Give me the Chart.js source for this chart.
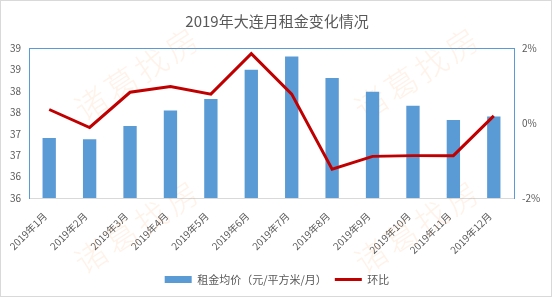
<!DOCTYPE html>
<html>
<head>
<meta charset="utf-8">
<script src="https://cdn.jsdelivr.net/npm/chart.js@4/dist/chart.umd.min.js"></script>
<style>
  html, body { margin: 0; padding: 0; background: #ffffff; }
  #wrap { width: 554px; height: 299px; position: relative; }
</style>
</head>
<body>
<div id="wrap"><canvas id="c" width="554" height="299"></canvas></div>
<script>
// ---- data ----
const titleText = '2019年大连月租金变化情况';
const categories = ['2019年1月','2019年2月','2019年3月','2019年4月','2019年5月','2019年6月',
                    '2019年7月','2019年8月','2019年9月','2019年10月','2019年11月','2019年12月'];
const rentLabel = '租金均价（元/平方米/月）';
const rentValues = [36.90, 36.87, 37.18, 37.54, 37.81, 38.49, 38.80, 38.30, 37.98, 37.65, 37.32, 37.40];
const momLabel = '环比';
const momValues = [0.36, -0.12, 0.82, 0.97, 0.77, 1.85, 0.77, -1.23, -0.89, -0.87, -0.87, 0.19]; // percent
const leftAxis = { min: 35.5, max: 39, step: 0.5 };
const rightAxis = { min: -2, max: 2, step: 2 };
const watermarkText = '诸葛找房';

const FONT = '"Noto Sans CJK SC", "Noto Sans", sans-serif';
const TXT = '#595959';
const BLUE = '#5b9bd5';
const RED = '#c00000';

const framePlugin = {
  id: 'frame',
  beforeDraw(chart) {
    const ctx = chart.ctx;
    ctx.save();
    ctx.fillStyle = '#ffffff';
    ctx.fillRect(0, 0, chart.width, chart.height);
    ctx.strokeStyle = '#d9d9d9';
    ctx.lineWidth = 1;
    ctx.strokeRect(0.5, 0.5, 551, 296);
    ctx.restore();
  }
};

const watermarkPlugin = {
  id: 'watermark',
  beforeDatasetsDraw(chart) {
    const ctx = chart.ctx;
    const spots = [[138, 73], [418, 73], [138, 226], [418, 226]];
    ctx.save();
    ctx.font = '300 32px ' + FONT;
    ctx.fillStyle = 'rgba(247, 150, 70, 0.12)';
    ctx.textAlign = 'center';
    ctx.textBaseline = 'middle';
    try { ctx.letterSpacing = '4px'; } catch (e) {}
    spots.forEach(([x, y]) => {
      ctx.save();
      ctx.translate(x, y);
      ctx.rotate(-33 * Math.PI / 180);
      ctx.fillText(watermarkText, 0, 0);
      ctx.restore();
    });
    ctx.restore();
  }
};

new Chart(document.getElementById('c'), {
  data: {
    labels: categories,
    datasets: [
      {
        type: 'bar',
        label: rentLabel,
        data: rentValues,
        backgroundColor: BLUE,
        borderWidth: 0,
        barPercentage: 0.33,
        categoryPercentage: 1.0,
        yAxisID: 'y',
        order: 2
      },
      {
        type: 'line',
        label: momLabel,
        data: momValues,
        borderColor: RED,
        backgroundColor: RED,
        borderWidth: 3,
        pointRadius: 0,
        tension: 0,
        yAxisID: 'y1',
        order: 1
      }
    ]
  },
  options: {
    responsive: false,
    animation: false,
    devicePixelRatio: 1,
    layout: { padding: { left: 0, right: 0, top: 0, bottom: 4 } },
    plugins: {
      tooltip: { enabled: false },
      title: {
        display: true,
        text: titleText,
        color: TXT,
        font: { family: FONT, size: 15, weight: 'normal', lineHeight: 1.2 },
        padding: { top: 12, bottom: 18 }
      },
      legend: {
        display: true,
        position: 'bottom',
        labels: {
          color: TXT,
          font: { family: FONT, size: 11 },
          usePointStyle: true,
          pointStyleWidth: 27,
          boxHeight: 7,
          padding: 8,
          generateLabels(chart) {
            return chart.data.datasets.map((ds, i) => ({
              text: ds.label,
              fillStyle: ds.type === 'bar' ? BLUE : RED,
              strokeStyle: ds.type === 'bar' ? BLUE : RED,
              lineWidth: ds.type === 'bar' ? 0 : 3,
              pointStyle: ds.type === 'bar' ? 'rect' : 'line',
              fontColor: TXT,
              hidden: false,
              datasetIndex: i
            }));
          }
        }
      }
    },
    scales: {
      x: {
        type: 'category',
        offset: true,
        grid: { display: false, drawTicks: false },
        border: { display: true, color: '#d9d9d9', width: 1 },
        ticks: {
          color: TXT,
          font: { family: FONT, size: 10 },
          minRotation: 45,
          maxRotation: 45,
          autoSkip: false,
          padding: 12,
          labelOffset: -4
        },
        afterFit(scale) { scale.height = 68; }
      },
      y: {
        type: 'linear',
        position: 'left',
        min: leftAxis.min,
        max: leftAxis.max,
        ticks: {
          stepSize: leftAxis.step,
          color: TXT,
          font: { family: FONT, size: 10 },
          padding: 8,
          callback: (v) => String(Math.round(v))
        },
        grid: {
          drawTicks: false,
          color: (c) => (c.tick && c.tick.value === leftAxis.max) ? BLUE : 'rgba(0,0,0,0)',
          lineWidth: 1
        },
        border: { display: true, color: BLUE, width: 1 },
        afterFit(scale) { scale.width = 29; }
      },
      y1: {
        type: 'linear',
        position: 'right',
        min: rightAxis.min,
        max: rightAxis.max,
        ticks: {
          stepSize: rightAxis.step,
          color: TXT,
          font: { family: FONT, size: 10 },
          padding: 8,
          callback: (v) => v + '%'
        },
        grid: { display: false, drawTicks: false },
        border: { display: true, color: BLUE, width: 1 },
        afterFit(scale) { scale.width = 40; }
      }
    }
  },
  plugins: [framePlugin, watermarkPlugin]
});
</script>
</body>
</html>
